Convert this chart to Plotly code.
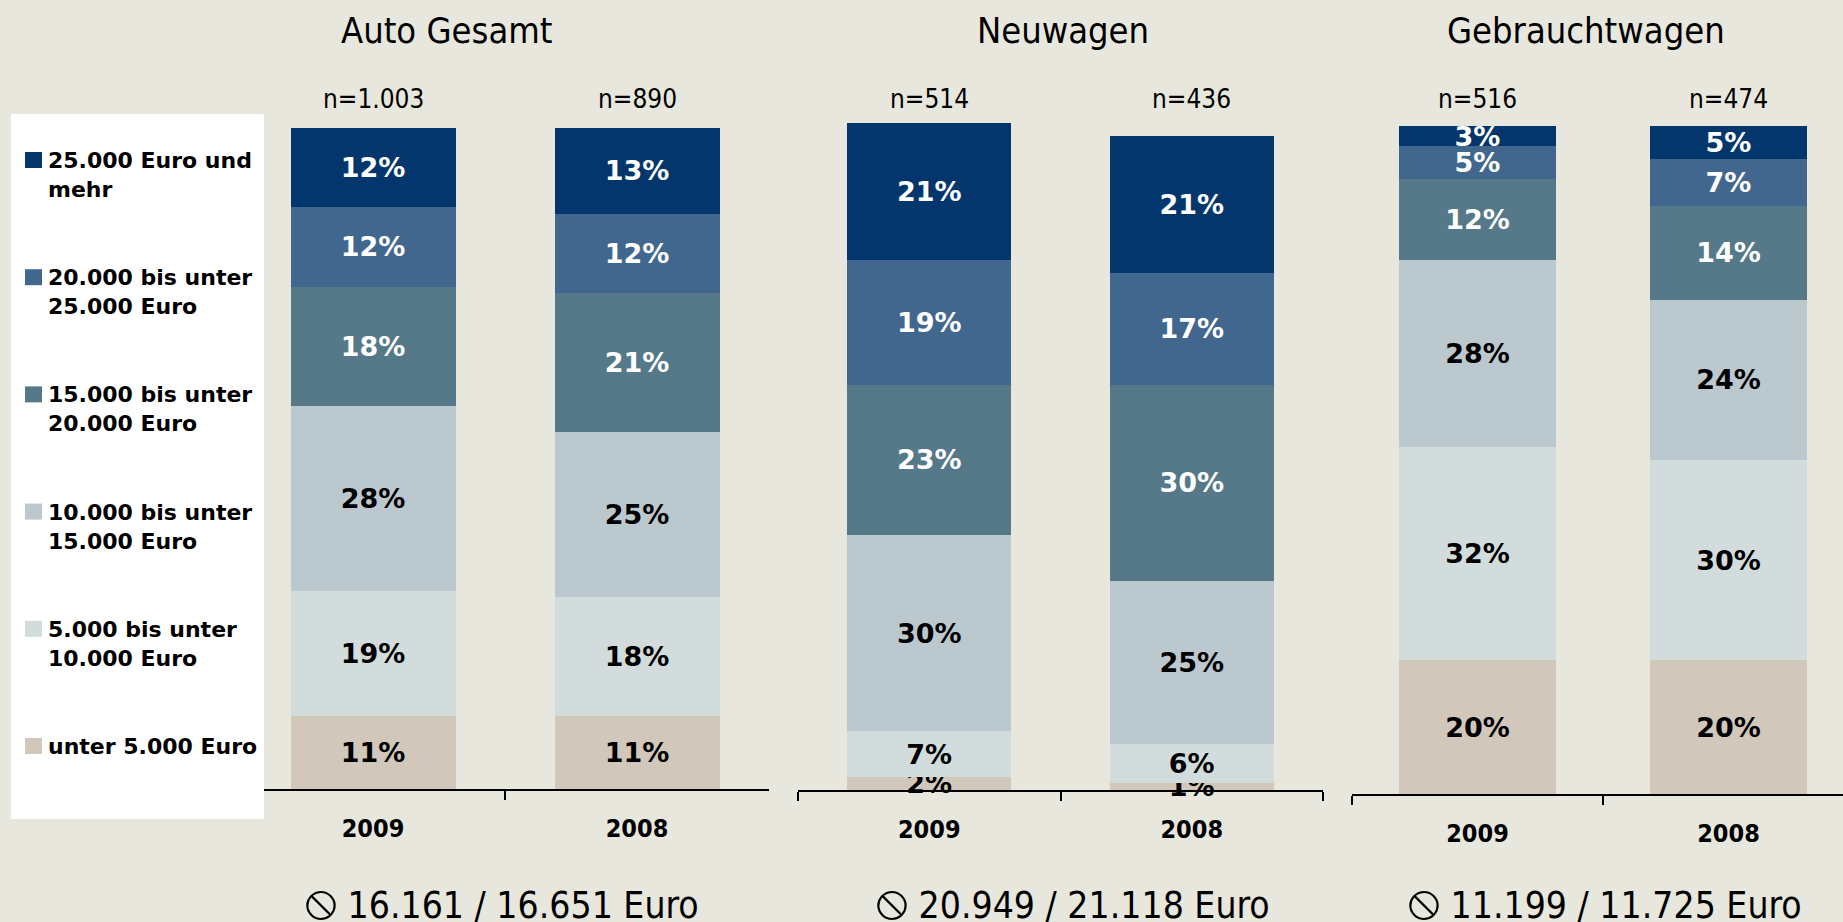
import plotly.graph_objects as go

# ---------------- data ----------------
years = ["2009", "2008"]
categories = [
    "unter 5.000 Euro",
    "5.000 bis unter 10.000 Euro",
    "10.000 bis unter 15.000 Euro",
    "15.000 bis unter 20.000 Euro",
    "20.000 bis unter 25.000 Euro",
    "25.000 Euro und mehr",
]
legend_labels = [
    "unter 5.000 Euro",
    "5.000 bis unter<br>10.000 Euro",
    "10.000 bis unter<br>15.000 Euro",
    "15.000 bis unter<br>20.000 Euro",
    "20.000 bis unter<br>25.000 Euro",
    "25.000 Euro und<br>mehr",
]
panel_titles = ["Auto Gesamt", "Neuwagen", "Gebrauchtwagen"]

gesamt_2009 = [11, 19, 28, 18, 12, 12]
gesamt_2008 = [11, 18, 25, 21, 12, 13]
neu_2009 = [2, 7, 30, 23, 19, 21]
neu_2008 = [1, 6, 25, 30, 17, 21]
gebraucht_2009 = [20, 32, 28, 12, 5, 3]
gebraucht_2008 = [20, 30, 24, 14, 7, 5]

n_gesamt = ["n=1.003", "n=890"]
n_neu = ["n=514", "n=436"]
n_gebraucht = ["n=516", "n=474"]

averages = ["16.161 / 16.651 Euro", "20.949 / 21.118 Euro", "11.199 / 11.725 Euro"]

# ---------------- style ----------------
colors = ["#D1C8BB", "#D2DCDC", "#BBC8CD", "#557989", "#42678F", "#03366C"]
text_colors = ["black", "black", "black", "white", "white", "white"]
BG = "#E8E7DD"
W, H = 1843, 922
COND = "DejaVu Sans Condensed, Tahoma, DejaVu Sans, sans-serif"
WIDE = "DejaVu Sans, Verdana, sans-serif"


def px(x):
    return x / W


def py(y):
    return 1 - y / H


panels = [
    dict(v09=gesamt_2009, v08=gesamt_2008, n=n_gesamt, xd=(241, 769), xr=[-0.5, 1.5],
         yax=789, s=661, tx=446, ax=502),
    dict(v09=neu_2009, v08=neu_2008, n=n_neu, xd=(798, 1323), xr=[-0.5, 1.5],
         yax=790, s=654, tx=1063, ax=1073),
    dict(v09=gebraucht_2009, v08=gebraucht_2008, n=n_gebraucht, xd=(1352, 1843),
         xr=[-0.5, -0.5 + 491 / 251], yax=794, s=668, tx=1586, ax=1605),
]

fig = go.Figure()
annotations = []
shapes = []
layout_axes = {}

for p_i, p in enumerate(panels):
    suffix = "" if p_i == 0 else str(p_i + 1)
    xa, ya = "x" + suffix, "y" + suffix
    for c_i, cat in enumerate(categories):
        vals = [p["v09"][c_i], p["v08"][c_i]]
        fig.add_trace(go.Bar(
            x=years, y=vals, name=cat, xaxis=xa, yaxis=ya,
            marker=dict(color=colors[c_i], line=dict(width=0)),
            text=[f"{v}%" for v in vals],
            textposition="inside", insidetextanchor="middle", textangle=0,
            constraintext="none", cliponaxis=False,
            textfont=dict(family=WIDE, size=27, color=text_colors[c_i], weight="bold"),
            showlegend=False, hoverinfo="name+y",
        ))
    ymax = 110
    layout_axes["xaxis" + suffix] = dict(
        domain=[px(p["xd"][0]), px(p["xd"][1])], range=p["xr"], anchor=ya,
        type="category", showline=True, linecolor="black", linewidth=2,
        ticks="outside", tickson="boundaries", ticklen=9, tickwidth=2, tickcolor="black",
        showgrid=False, zeroline=False, ticklabelstandoff=16,
        tickfont=dict(family=COND, size=25, color="black", weight="bold"),
        fixedrange=True,
    )
    layout_axes["yaxis" + suffix] = dict(
        domain=[py(p["yax"]), py(p["yax"] - p["s"] * ymax / 100)], range=[0, ymax],
        anchor=xa, visible=False, fixedrange=True,
    )
    # sample size labels
    for i, label in enumerate(p["n"]):
        annotations.append(dict(
            x=i, y=py(99), xref=xa, yref="paper", text=label, showarrow=False,
            xanchor="center", yanchor="middle",
            font=dict(family=COND, size=26, color="black"),
        ))
    # panel titles
    annotations.append(dict(
        x=px(p["tx"]), y=py(31), xref="paper", yref="paper", text=panel_titles[p_i],
        showarrow=False, xanchor="center", yanchor="middle",
        font=dict(family=COND, size=36, color="black"),
    ))
    # average values
    annotations.append(dict(
        x=px(p["ax"]), y=py(901), xref="paper", yref="paper",
        text="<span style='font-size:49px'>\u29B8</span> " + averages[p_i],
        showarrow=False, xanchor="center", yanchor="middle",
        font=dict(family=COND, size=37, color="black"),
    ))

# ---------------- custom legend ----------------
shapes.append(dict(type="rect", xref="paper", yref="paper", layer="above",
                   x0=px(11), x1=px(264), y0=py(819), y1=py(114),
                   fillcolor="white", line=dict(width=0)))
legend_first = 160
legend_step = 117.2
for k, c_i in enumerate(reversed(range(len(categories)))):
    cy = legend_first + k * legend_step
    shapes.append(dict(type="rect", xref="paper", yref="paper", layer="above",
                       x0=px(25), x1=px(42), y0=py(cy + 8), y1=py(cy - 8),
                       fillcolor=colors[c_i], line=dict(width=0)))
    annotations.append(dict(
        x=px(46), y=py(cy - 14), xref="paper", yref="paper", text=legend_labels[c_i],
        showarrow=False, xanchor="left", yanchor="top", align="left",
        font=dict(family=WIDE, size=22, color="black", weight="bold"),
    ))

fig.update_layout(
    width=W, height=H, margin=dict(l=0, r=0, t=0, b=0),
    paper_bgcolor=BG, plot_bgcolor=BG, barmode="stack", bargap=0.375,
    showlegend=False, annotations=annotations, shapes=shapes,
    **layout_axes,
)

fig.write_html(
    "out.html",
    config={"displayModeBar": False},
    post_script="document.body.style.margin='0';document.body.style.padding='0';"
                "document.body.style.background='" + BG + "';",
)
